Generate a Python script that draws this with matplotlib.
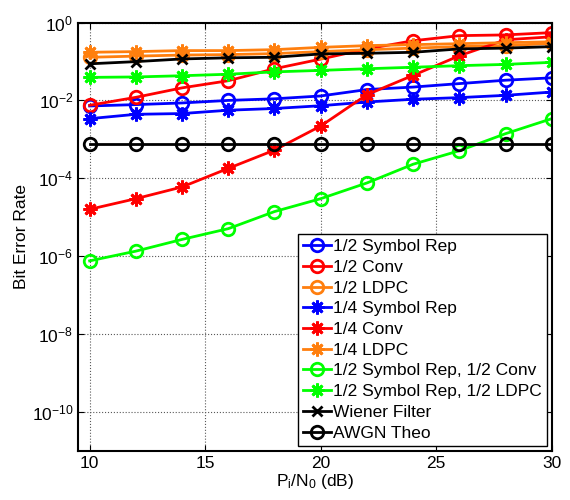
import matplotlib
matplotlib.use("Agg")
import matplotlib.pyplot as plt
import numpy as np

plt.rcParams["font.family"] = ["Liberation Sans", "DejaVu Sans"]
plt.rcParams["mathtext.fontset"] = "custom"
plt.rcParams["mathtext.rm"] = "Liberation Sans"
plt.rcParams["mathtext.it"] = "Liberation Sans:italic"
plt.rcParams["mathtext.default"] = "regular"

snr_db = [10, 12, 14, 16, 18, 20, 22, 24, 26, 28, 30]

half_rep    = [7.2e-3, 7.8e-3, 8.6e-3, 1.0e-2, 1.1e-2, 1.3e-2, 1.9e-2, 2.2e-2, 2.7e-2, 3.3e-2, 3.8e-2]
half_conv   = [7.5e-3, 1.2e-2, 2.1e-2, 3.2e-2, 6.5e-2, 0.115, 0.21, 0.34, 0.46, 0.48, 0.55]
half_ldpc   = [0.128, 0.137, 0.146, 0.150, 0.159, 0.179, 0.20, 0.22, 0.24, 0.255, 0.29]
quart_rep   = [3.4e-3, 4.4e-3, 4.6e-3, 5.6e-3, 6.2e-3, 7.3e-3, 9.1e-3, 1.07e-2, 1.18e-2, 1.35e-2, 1.64e-2]
quart_conv  = [1.6e-5, 3.0e-5, 6.0e-5, 1.8e-4, 5.3e-4, 2.2e-3, 1.4e-2, 4.4e-2, 0.14, 0.36, 0.43]
quart_ldpc  = [0.172, 0.179, 0.190, 0.190, 0.201, 0.230, 0.255, 0.27, 0.286, 0.303, 0.32]
rep_conv    = [7.6e-7, 1.35e-6, 2.7e-6, 5.1e-6, 1.4e-5, 3.0e-5, 7.6e-5, 2.3e-4, 5.1e-4, 1.4e-3, 3.4e-3]
rep_ldpc    = [3.9e-2, 4.0e-2, 4.3e-2, 4.7e-2, 5.4e-2, 5.9e-2, 6.5e-2, 7.1e-2, 7.8e-2, 8.4e-2, 9.5e-2]
wiener      = [0.087, 0.099, 0.116, 0.124, 0.128, 0.156, 0.162, 0.172, 0.21, 0.22, 0.24]
awgn_theo   = [7.6e-4] * 11

ORANGE = "#ff7f0e"
GREEN = "#00ff00"
ASTER = (8, 2, 0)

# (values, colour, marker, marker size, label)
curves = [
    (half_rep,   "b",    "o",   9,  "1/2 Symbol Rep"),
    (half_conv,  "r",    "o",   9,  "1/2 Conv"),
    (half_ldpc,  ORANGE, "o",   9,  "1/2 LDPC"),
    (quart_rep,  "b",    ASTER, 10, "1/4 Symbol Rep"),
    (quart_conv, "r",    ASTER, 10, "1/4 Conv"),
    (quart_ldpc, ORANGE, ASTER, 10, "1/4 LDPC"),
    (rep_conv,   GREEN,  "o",   9,  "1/2 Symbol Rep, 1/2 Conv"),
    (rep_ldpc,   GREEN,  ASTER, 10, "1/2 Symbol Rep, 1/2 LDPC"),
    (wiener,     "k",    "x",   7.5, "Wiener Filter"),
    (awgn_theo,  "k",    "o",   9,  "AWGN Theo"),
]

fig = plt.figure(figsize=(5.7, 5.0), dpi=100)
ax = fig.add_axes([0.137, 0.098, 0.831, 0.857])

for vals, col, mk, ms, lab in curves:
    ax.semilogy(snr_db, vals, color=col, marker=mk, lw=2, ms=ms, mew=2,
                mfc="none", label=lab)

ax.set_xlim(9.5, 30)
ax.set_ylim(1e-11, 1e0)
ax.set_xticks([10, 15, 20, 25, 30])
ax.set_yticks([1e0, 1e-2, 1e-4, 1e-6, 1e-8, 1e-10])
ax.yaxis.set_minor_locator(matplotlib.ticker.NullLocator())
ax.tick_params(direction="in", length=4, labelsize=12.5, top=True, right=True)
ax.grid(True, ls=":", color="0.35", lw=0.8)
for sp in ax.spines.values():
    sp.set_linewidth(1.5)

ax.set_xlabel("P$_i$/N$_0$ (dB)", fontsize=12.5, labelpad=1)
ax.set_ylabel("Bit Error Rate", fontsize=12.5, labelpad=2)

leg = ax.legend(loc="lower right", fontsize=12.5, handlelength=1.6,
                handletextpad=0.1, labelspacing=0.32, borderpad=0.3,
                borderaxespad=0.3, fancybox=False, framealpha=1)
leg.get_frame().set_edgecolor("k")
leg.get_frame().set_linewidth(1.0)

fig.savefig("out.png", dpi=100)
